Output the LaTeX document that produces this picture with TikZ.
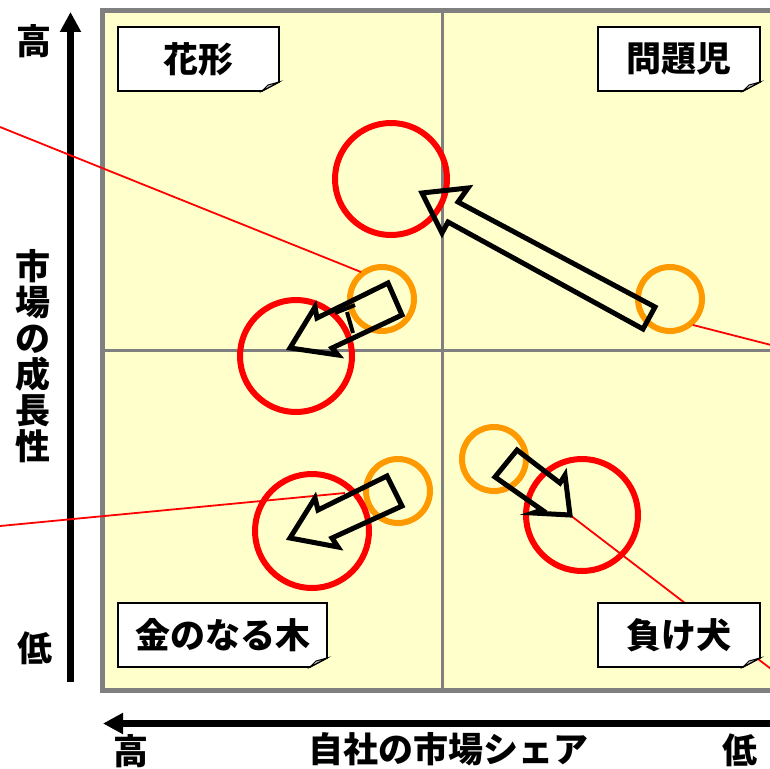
\documentclass[tikz,border=0pt]{standalone}
\usepackage{fontspec}
\setmainfont{Noto Sans CJK JP}
\usetikzlibrary{arrows.meta,calc}
\definecolor{yfill}{HTML}{FFFFCC}
\definecolor{gline}{HTML}{808080}
\definecolor{orng}{HTML}{FF9900}
\definecolor{rd}{HTML}{FF0000}
\newcommand\foldbox[5]{%
  \filldraw[fill=white,draw=black,line width=1.6pt]
    (#1,#2) -- (#3,#2) -- ($(#3,#4)+(0,-9)$) -- ($(#3,#4)+(-17,0)$) -- (#1,#4) -- cycle;
  \filldraw[fill=gray!45,draw=black,line width=1pt]
    ($(#3,#4)+(0,-9)$) -- ($(#3,#4)+(-17,0)$) -- ($(#3,#4)+(-11,-6)$) -- cycle;
  \node[boxlbl] (#5) at ($(#1,#2)!0.5!(#3,#4)$) {};
}
\begin{document}
\begin{tikzpicture}[x=1pt,y=-1pt,
  lbl/.style={font=\bfseries\fontsize{35}{36}\selectfont,inner sep=0pt},
  boxlbl/.style={inner sep=0pt},
  ring/.style={circle,draw=#1,line width=6pt,inner sep=0pt,fill=none},
  blk/.style={draw=black,line width=5pt,line join=miter,fill=none},
  thin/.style={draw=rd,line width=1.8pt},
  axis/.style={line width=7pt,-{Triangle[length=20pt,width=20pt]}}]
\useasboundingbox (0,0) rectangle (770,768);
\fill[white] (0,0) rectangle (770,768);
% matrix background
\fill[yfill] (102.5,10.5) rectangle (780,690.5);
\draw[gline,line width=3pt] (442,12) -- (442,689);
\draw[gline,line width=3pt] (104,350) -- (780,350);
\draw[gline,line width=5pt] (102.5,10.5) rectangle (790,690.5);
% axes
\coordinate (yb) at (70.5,682);
\coordinate (yt) at (70.5,12);
\coordinate (xr) at (775,723.5);
\coordinate (xl) at (103,723.5);
\draw[axis] (yb) -- (yt);
\draw[axis] (xr) -- (xl);
% axis labels
\node[lbl] (hiY) at (34,41) {高};
\node[lbl] (loY) at (35,648) {低};
\node[lbl,align=center] (yname) at (33,356) {市\\場\\の\\成\\長\\性};
\node[lbl] (hiX) at (131,751) {高};
\node[lbl] (loX) at (740,750) {低};
\node[lbl] (xname) at (448,749) {自社の市場シェア};
% circles
\node[ring=rd,minimum size=112pt] (r1) at (391,179) {};
\node[ring=orng,minimum size=64pt] (o1) at (382,299) {};
\node[ring=rd,minimum size=112pt] (r2) at (296,356) {};
\node[ring=orng,minimum size=64pt] (o2) at (670,299) {};
\node[ring=orng,minimum size=64pt] (o3) at (398,491) {};
\node[ring=rd,minimum size=114pt] (r3) at (312,531) {};
\node[ring=orng,minimum size=64pt] (o4) at (494,459) {};
\node[ring=rd,minimum size=112pt] (r4) at (582,515) {};
% thin red lines
\coordinate (l1a) at (0,127);
\coordinate (l1b) at (361,272);
\coordinate (l2a) at (693,325);
\coordinate (l2b) at (775,346);
\coordinate (l3a) at (0,526);
\coordinate (l3b) at (345,493);
\coordinate (l4a) at (570,515);
\coordinate (l4b) at (775,672);
\draw[thin] (l1a) -- (l1b);
\draw[thin] (l2a) -- (l2b);
\draw[thin] (l3a) -- (l3b);
\draw[thin] (l4a) -- (l4b);
% block arrows
\draw[blk] (655,307) -- (458,202) -- (468,188) -- (422,193) -- (442,233) -- (448,222) -- (643,329) -- cycle;
\draw[blk] (388,283) -- (317,318) -- (315,307) -- (290,348) -- (338,355) -- (332,348) -- (402,315) -- cycle;
\draw[black,line width=4pt] (335,313) -- (355,305);
\draw[black,line width=4pt] (347,312) -- (353,333);
\draw[blk] (387,476) -- (318,510) -- (315,498) -- (290,538) -- (338,547) -- (332,538) -- (402,506) -- cycle;
\draw[blk] (517,450) -- (560,483) -- (565,475) -- (570,515) -- (533,513) -- (542,510) -- (495,477) -- cycle;
% quadrant labels
\foldbox{118}{27}{279}{91}{bA}
\node[lbl] (tA) at (bA) {花形};
\foldbox{598}{27}{760}{91}{bB}
\node[lbl] (tB) at (bB) {問題児};
\foldbox{118}{603}{327}{667}{bC}
\node[lbl] (tC) at (bC) {金のなる木};
\foldbox{598}{603}{760}{667}{bD}
\node[lbl] (tD) at (bD) {負け犬};
\end{tikzpicture}
\end{document}
